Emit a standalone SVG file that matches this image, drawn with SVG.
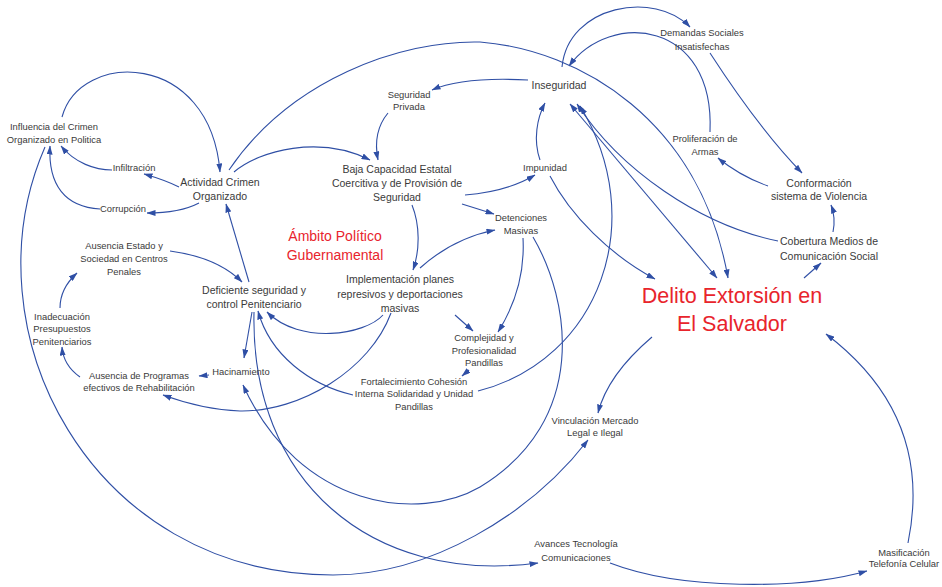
<svg xmlns="http://www.w3.org/2000/svg" width="942" height="587" viewBox="0 0 942 587">
<defs>
<marker id="a" markerWidth="9" markerHeight="6" refX="8.5" refY="3" orient="auto-start-reverse" markerUnits="userSpaceOnUse">
<path d="M0,0 L9,3 L0,6 Z" fill="#2f4fa5"/>
</marker>
<style>
text{font-family:"Liberation Sans",Arial,sans-serif;fill:#3a3a3a;text-anchor:middle}
.s{font-size:9.4px}
.m{font-size:10.5px}
.r{fill:#e8242c}
.big{font-size:21.5px}
.amb{font-size:14px}
.c path{fill:none;stroke:#2f4fa5;stroke-width:1.1;marker-end:url(#a)}
.c path.both{marker-start:url(#a)}
</style>
</defs>
<rect width="942" height="587" fill="#fff"/>
<g id="connectors" class="c">
<path d="M62,117 C80,50 210,50 220,172"/>
<path d="M179,187 Q165,180 144,174"/>
<path d="M112,170 C95,170 75,163 61,146"/>
<path d="M199,203 Q180,213 147,213"/>
<path d="M100,209 C65,207 48,185 50,146"/>
<path d="M234,172 C260,150 320,135 370,160"/>
<path d="M229,170 C290,80 400,40 480,42 C580,50 700,120 728,278"/>
<path d="M528,80 C490,78 455,80 432,90"/>
<path d="M388,113 C378,125 374,140 378,160"/>
<path d="M562,67 C568,5 655,-10 690,27"/>
<path d="M710,132 C715,20 610,10 569,66"/>
<path d="M710,53 Q760,130 802,173"/>
<path d="M768,186 Q740,176 718,158"/>
<path d="M833,232 Q836,218 831,205"/>
<path d="M804,278 L821,263"/>
<path d="M778,241 C700,225 620,170 577,104"/>
<path class="both" d="M570,104 L717,278"/>
<path d="M465,195 C490,193 515,187 535,175"/>
<path d="M540,160 C533,140 537,118 545,103"/>
<path d="M550,176 C570,215 610,255 655,279"/>
<path d="M462,204 L494,214"/>
<path d="M412,205 C420,225 420,250 413,270"/>
<path d="M420,268 C440,250 465,236 495,230"/>
<path d="M523,238 C525,275 515,305 498,332"/>
<path d="M455,315 L473,331"/>
<path d="M469,370 L462,376"/>
<path d="M533,237 C570,300 590,420 480,487 C420,522 300,510 243,385"/>
<path d="M254,312 C250,480 370,585 538,563"/>
<path d="M353,395 C310,385 270,355 258,311"/>
<path d="M383,315 C365,335 300,345 267,312"/>
<path d="M391,313 C370,370 300,412 240,411 C210,410 185,403 163,395"/>
<path d="M45,147 C-35,330 90,575 333,575 C430,575 530,515 588,440"/>
<path d="M652,337 C625,360 605,385 598,413"/>
<path d="M908,543 C925,460 900,390 826,334"/>
<path d="M610,563 C680,590 800,590 867,571"/>
<path d="M170,251 C200,255 225,265 242,282"/>
<path d="M249,282 L226,204"/>
<path d="M252,312 L244,358"/>
<path d="M209,375 L199,376"/>
<path d="M80,377 C70,370 63,360 62,347"/>
<path d="M60,308 C60,295 66,283 77,273"/>
<path d="M478,391 C600,360 650,220 580,106"/>
</g>
<g id="influencia"><text class="s" x="54" y="130.4">Influencia del Crimen</text><text class="s" x="54" y="143.4">Organizado en Politica</text></g>
<g id="infiltracion"><text class="s" x="134" y="171.4">Infiltración</text></g>
<g id="corrupcion"><text class="s" x="123" y="212.4">Corrupción</text></g>
<g id="actividad"><text class="m" x="220" y="185.8">Actividad Crimen</text><text class="m" x="220" y="199.8">Organizado</text></g>
<g id="seguridad-privada"><text class="s" x="409" y="98.4">Seguridad</text><text class="s" x="409" y="110.4">Privada</text></g>
<g id="inseguridad"><text class="m" x="559" y="88.8">Inseguridad</text></g>
<g id="demandas"><text class="s" x="702" y="36.4">Demandas Sociales</text><text class="s" x="702" y="50.4">Insatisfechas</text></g>
<g id="proliferacion"><text class="s" x="705" y="142.4">Proliferación de</text><text class="s" x="705" y="155.4">Armas</text></g>
<g id="conformacion"><text class="m" x="819" y="186.8">Conformación</text><text class="m" x="819" y="199.8">sistema de Violencia</text></g>
<g id="cobertura"><text class="m" x="829" y="244.8">Cobertura Medios de</text><text class="m" x="829" y="259.8">Comunicación Social</text></g>
<g id="baja-capacidad"><text class="m" x="397" y="172.8">Baja Capacidad Estatal</text><text class="m" x="397" y="186.8">Coercitiva y de Provisión de</text><text class="m" x="397" y="200.8">Seguridad</text></g>
<g id="impunidad"><text class="s" x="545" y="171.4">Impunidad</text></g>
<g id="detenciones"><text class="s" x="521" y="221.4">Detenciones</text><text class="s" x="521" y="234.4">Masivas</text></g>
<g id="ambito"><text class="amb r" x="335" y="241">Ámbito Político</text><text class="amb r" x="335" y="260">Gubernamental</text></g>
<g id="implementacion"><text class="m" x="400" y="282.8">Implementación planes</text><text class="m" x="400" y="297.8">represivos y deportaciones</text><text class="m" x="400" y="311.8">masivas</text></g>
<g id="complejidad"><text class="s" x="484" y="341.4">Complejidad y</text><text class="s" x="484" y="354.4">Profesionalidad</text><text class="s" x="484" y="366.4">Pandillas</text></g>
<g id="fortalecimiento"><text class="s" x="414" y="385.4">Fortalecimiento Cohesión</text><text class="s" x="414" y="397.4">Interna Solidaridad y Unidad</text><text class="s" x="414" y="410.4">Pandillas</text></g>
<g id="deficiente"><text class="m" x="254" y="293.8">Deficiente seguridad y</text><text class="m" x="254" y="307.8">control Penitenciario</text></g>
<g id="ausencia-estado"><text class="s" x="124" y="249.4">Ausencia Estado y</text><text class="s" x="124" y="262.4">Sociedad en Centros</text><text class="s" x="124" y="275.4">Penales</text></g>
<g id="inadecuacion"><text class="s" x="62" y="320.4">Inadecuación</text><text class="s" x="62" y="332.4">Presupuestos</text><text class="s" x="62" y="345.4">Penitenciarios</text></g>
<g id="ausencia-programas"><text class="s" x="139" y="379.4">Ausencia de Programas</text><text class="s" x="139" y="391.4">efectivos de Rehabilitación</text></g>
<g id="hacinamiento"><text class="s" x="241" y="375.4">Hacinamiento</text></g>
<g id="delito"><text class="big r" x="732" y="302.5">Delito Extorsión en</text><text class="big r" x="732" y="330.5">El Salvador</text></g>
<g id="vinculacion"><text class="s" x="595" y="424.4">Vinculación Mercado</text><text class="s" x="595" y="436.4">Legal e Ilegal</text></g>
<g id="avances"><text class="s" x="576" y="547.4">Avances Tecnología</text><text class="s" x="576" y="561.4">Comunicaciones</text></g>
<g id="masificacion"><text class="s" x="904" y="556.4">Masificación</text><text class="s" x="904" y="567.4">Telefonía Celular</text></g>
</svg>
